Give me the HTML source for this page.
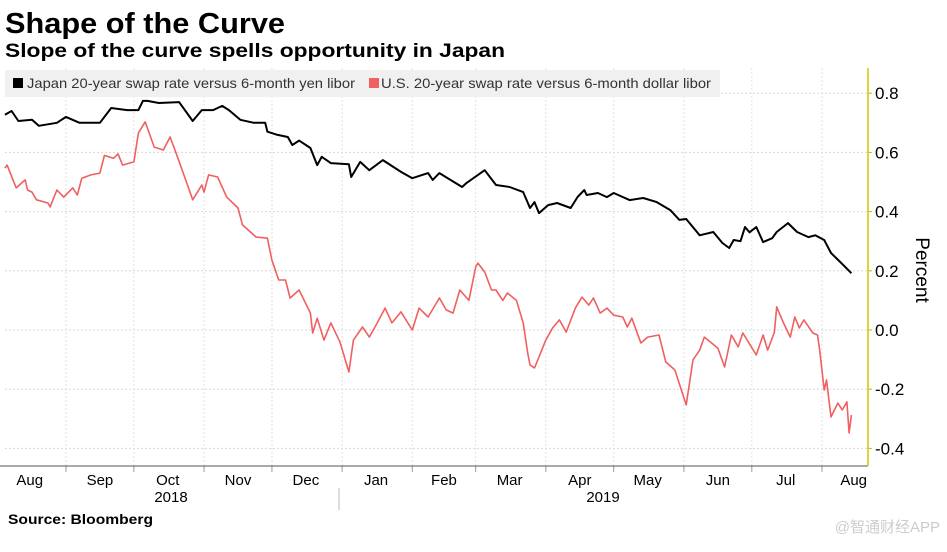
<!DOCTYPE html>
<html><head><meta charset="utf-8"><style>
body{margin:0;background:#fff;width:947px;height:547px;overflow:hidden;font-family:"Liberation Sans","Noto Sans CJK SC",sans-serif}
</style></head><body>
<svg id="chart" width="947" height="547" xmlns="http://www.w3.org/2000/svg" font-family="Liberation Sans, Noto Sans CJK SC, sans-serif">
<text x="5" y="33" font-size="29" font-weight="bold" fill="#000" textLength="280" lengthAdjust="spacingAndGlyphs">Shape of the Curve</text>
<text x="5" y="57" font-size="19" font-weight="bold" fill="#000" textLength="500" lengthAdjust="spacingAndGlyphs">Slope of the curve spells opportunity in Japan</text>
<g id="grid"></g>
<rect x="5" y="70" width="715" height="27" fill="#f0f0f0"/>
<rect x="13" y="78" width="10" height="10" fill="#000"/>
<text x="27" y="88" font-size="14" fill="#333" textLength="328" lengthAdjust="spacingAndGlyphs">Japan 20-year swap rate versus 6-month yen libor</text>
<rect x="369" y="78" width="10" height="10" fill="#f06060"/>
<text x="381" y="88" font-size="14" fill="#333" textLength="330" lengthAdjust="spacingAndGlyphs">U.S. 20-year swap rate versus 6-month dollar libor</text>
<g id="series"></g>
<g id="axes"></g>
<text transform="translate(916,270) rotate(90)" text-anchor="middle" font-size="19" fill="#000">Percent</text>
<line x1="339" y1="488" x2="339" y2="510" stroke="#bbb"/>
<text x="171" y="502" text-anchor="middle" font-size="15" fill="#000">2018</text>
<text x="603" y="502" text-anchor="middle" font-size="15" fill="#000">2019</text>
<text x="8" y="524" font-size="14" font-weight="bold" fill="#000" textLength="145" lengthAdjust="spacingAndGlyphs">Source: Bloomberg</text>
<text x="940" y="532" text-anchor="end" font-size="15" fill="#ccc">@智通财经APP</text>
</svg>
<script>
const jpDays=[4,7,10,16,19,27,31,37,46,51,58,63,65,67,72,81,87,91,96,100,103,108,114,119,120,124,129,131,134,139,142,144,148,156,157,161,165,171,179,184,191,193,196,206,208,216,221,227,233,236,238,240,244,248,254,257,260,261,266,270,273,280,286,292,298,302,305,311,317,321,324,326,329,331,333,336,339,343,345,350,354,359,362,366,369,373,378];
const jpValues=[.727,.74,.706,.71,.69,.70,.72,.70,.70,.75,.743,.743,.774,.774,.767,.77,.706,.743,.743,.757,.743,.71,.70,.70,.67,.66,.652,.625,.64,.615,.557,.585,.564,.56,.517,.568,.54,.574,.534,.513,.53,.507,.53,.483,.497,.54,.49,.483,.466,.412,.432,.395,.422,.429,.412,.449,.473,.456,.463,.449,.463,.439,.446,.432,.405,.372,.375,.32,.331,.294,.277,.304,.30,.348,.33,.348,.297,.31,.331,.361,.331,.314,.32,.304,.26,.23,.192];
const usDays=[4,5,9,13,14,16,18,23,24,27,30,34,36,38,42,46,48,52,54,56,61,63,66,70,74,77,80,85,87,91,92,94,98,102,107,109,115,120,122,125,128,130,134,139,140,142,145,148,152,156,158,162,165,168,172,175,179,184,187,191,196,199,202,205,209,212,213,216,219,221,224,226,230,233,235,236,238,240,243,246,249,252,256,259,262,264,267,270,273,277,279,281,285,288,293,296,300,305,308,311,313,319,322,325,328,330,336,339,341,344,345,348,351,353,355,357,361,363,364,366,367,369,372,374,376,377,378];
const usValues=[.547,.557,.48,.507,.473,.466,.44,.429,.416,.473,.449,.48,.456,.513,.524,.53,.59,.58,.595,.557,.568,.666,.703,.618,.608,.652,.59,.483,.44,.49,.466,.524,.517,.449,.412,.355,.314,.31,.236,.169,.169,.108,.135,.057,-.01,.04,-.034,.024,-.04,-.142,-.034,.01,-.024,.017,.074,.024,.061,0,.074,.044,.108,.068,.057,.135,.10,.213,.226,.196,.135,.135,.10,.125,.10,.024,-.078,-.118,-.128,-.091,-.034,.007,.034,-.007,.074,.111,.084,.108,.057,.074,.05,.044,.01,.04,-.044,-.024,-.017,-.108,-.135,-.253,-.101,-.068,-.024,-.061,-.125,-.017,-.057,-.01,-.084,-.017,-.068,-.007,.078,.024,-.024,.044,.007,.034,-.01,-.017,-.068,-.203,-.169,-.294,-.247,-.27,-.243,-.348,-.287];
const yTicks=[0.8,0.6,0.4,0.2,0.0,-0.2,-0.4];
const yTickLabels=["0.8","0.6","0.4","0.2","0.0","-0.2","-0.4"];
const monthTickDays=[31,61,92,122,153,184,212,243,273,304,334,365];
const monthLabels=["Aug","Sep","Oct","Nov","Dec","Jan","Feb","Mar","Apr","May","Jun","Jul","Aug"];
const monthLabelDays=[15,46,76,107,137,168,198,227,258,288,319,349,379];

const NS="http://www.w3.org/2000/svg";
const X0=5,X1=868,Y0=68,YB=466;
function xs(d){return -4.2+d*2.2635;}
function ys(v){return 330-v*296;}
function mk(t,a,p){const e=document.createElementNS(NS,t);for(const k in a)e.setAttribute(k,a[k]);p.appendChild(e);return e;}
const grid=document.getElementById('grid'),series=document.getElementById('series'),axes=document.getElementById('axes');
yTicks.forEach((v,i)=>{
  const l=mk('line',{x1:X0,x2:X1,y1:ys(v),y2:ys(v),stroke:'#d8d8d8','stroke-dasharray':'2,2'},grid);
  
  
  const t=mk('line',{x1:X1,x2:X1+4,y1:ys(v),y2:ys(v),stroke:'#c8b400'},axes);
  
  
  const tx=mk('text',{x:X1+7,y:ys(v)+6,'font-size':17,fill:'#000'},axes);
  tx.textContent=yTickLabels[i];
  
  
});
monthTickDays.forEach(d=>{
  const l=mk('line',{x1:xs(d),x2:xs(d),y1:Y0,y2:YB,stroke:'#e0e0e0','stroke-dasharray':'2,2'},grid);
  
  
  const t=mk('line',{x1:xs(d),x2:xs(d),y1:YB,y2:YB+6,stroke:'#999'},axes);
  
  
});
monthLabels.forEach((m,i)=>{
  const t=mk('text',{x:xs(monthLabelDays[i]),y:485,'text-anchor':'middle','font-size':15,fill:'#000'},axes);
  t.textContent=m;
  
  
});
const xa=mk('line',{x1:0,x2:X1,y1:YB,y2:YB,stroke:'#555'},axes);


const ya=mk('line',{x1:X1,x2:X1,y1:Y0,y2:YB,stroke:'#d8c400','stroke-width':1.5},axes);


function path(days,vals,color,name){
  const d=days.map((dd,i)=>(i?'L':'M')+xs(dd).toFixed(1)+','+ys(vals[i]).toFixed(1)).join('');
  const p=mk('path',{d:d,fill:'none',stroke:color,'stroke-width':color==='#000'?2:1.6,'stroke-linejoin':'round'},series);
  
  
}
path(usDays,usValues,'#f06060','us-swap-line');
path(jpDays,jpValues,'#000','japan-swap-line');
</script>
</body></html>
